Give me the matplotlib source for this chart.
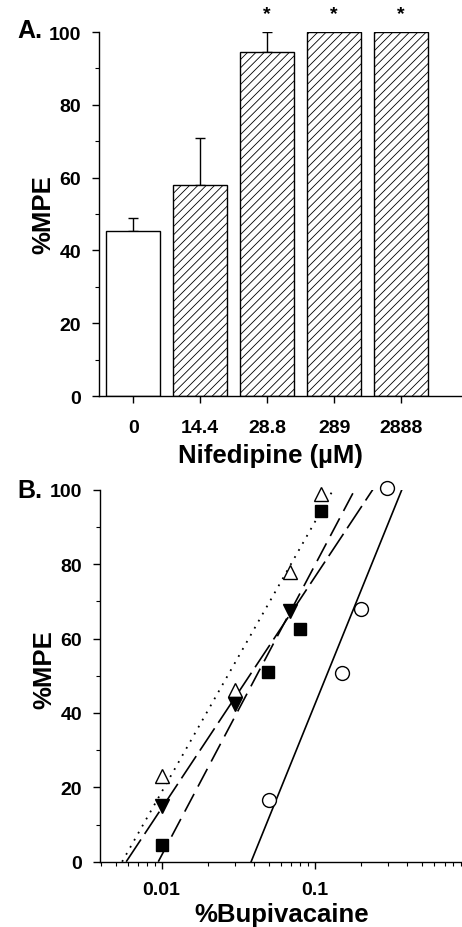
import numpy as np
import matplotlib
matplotlib.use("Agg")
import matplotlib.pyplot as plt
from matplotlib.ticker import MultipleLocator, LogLocator, NullFormatter, FixedLocator

plt.rcParams['font.family'] = ['Liberation Sans', 'DejaVu Sans']
plt.rcParams['font.weight'] = 'bold'
plt.rcParams['hatch.linewidth'] = 0.6

# Panel A: nifedipine dose vs %MPE
nif_labels = ['0', '14.4', '28.8', '289', '2888']
nif_mpe = [45.2, 58.0, 94.6, 100.0, 100.0]
nif_err = [3.8, 12.8, 5.4, 0.0, 0.0]
nif_sig = [False, False, True, True, True]

# Panel B: bupivacaine dose-response, four groups
tri_x = [0.01, 0.03, 0.069, 0.109]
tri_y = [23.0, 46.1, 78.0, 98.8]
inv_x = [0.01, 0.03, 0.069]
inv_y = [15.1, 42.4, 67.5]
sq_x = [0.01, 0.0496, 0.08, 0.109]
sq_y = [4.6, 51.1, 62.5, 94.4]
circ_x = [0.05, 0.151, 0.2, 0.296]
circ_y = [16.6, 50.7, 67.9, 100.4]

W, H = 462, 928
fig = plt.figure(figsize=(W / 100, H / 100), dpi=100)

tick_fs = 14
label_fs = 18.5


def style_axis(ax, xpad):
    for s in ['top', 'right']:
        ax.spines[s].set_visible(False)
    for s in ['left', 'bottom']:
        ax.spines[s].set_linewidth(1.0)
    ax.tick_params(which='major', direction='out', length=5, width=1.0,
                   labelsize=tick_fs)
    ax.tick_params(which='minor', direction='out', length=3, width=0.8)
    ax.tick_params(axis='y', which='major', pad=8)
    ax.tick_params(axis='x', which='major', pad=xpad)
    for lab in ax.get_xticklabels() + ax.get_yticklabels():
        lab.set_fontweight('bold')


# ---- Panel A ----
axA = fig.add_axes([99 / W, 1 - 397 / H, 363 / W, 364 / H])
pos = np.arange(len(nif_labels))
for i in pos:
    axA.bar(i, nif_mpe[i], width=0.8, color='white', edgecolor='black',
            linewidth=1.0, hatch=None if i == 0 else '////', zorder=2)
    if nif_err[i] > 0:
        axA.errorbar(i, nif_mpe[i], yerr=[[0], [nif_err[i]]], fmt='none',
                     ecolor='black', elinewidth=1.0, capsize=3.5,
                     capthick=1.0, zorder=1)
    if nif_sig[i]:
        axA.text(i, 105, '*', ha='center', va='center', fontsize=14,
                 fontweight='bold', clip_on=False)
axA.set_xlim(-0.51, 4.91)
axA.set_ylim(0, 100)
axA.set_xticks(pos)
axA.set_xticklabels(nif_labels)
axA.yaxis.set_major_locator(MultipleLocator(20))
axA.yaxis.set_minor_locator(MultipleLocator(10))
style_axis(axA, 11.5)
axA.set_ylabel('%MPE', fontsize=label_fs, fontweight='bold')
axA.yaxis.set_label_coords(-0.12, 0.5)
axA.set_xlabel('Nifedipine (\u00b5M)', fontsize=label_fs, fontweight='bold')
axA.xaxis.set_label_coords(0.471, -0.13)
fig.text(17 / W, 1 - 38 / H, 'A.', fontsize=18, fontweight='bold',
         ha='left', va='baseline')

# ---- Panel B ----
axB = fig.add_axes([100 / W, 1 - 862.7 / H, 362 / W, 372 / H])
groups = [
    (tri_x, tri_y, '^', 'white', (0, (1, 3.5)), 1.3, 10),
    (inv_x, inv_y, 'v', 'black', (0, (16, 4)), 1.2, 10),
    (sq_x, sq_y, 's', 'black', (0, (12, 5)), 1.2, 9),
    (circ_x, circ_y, 'o', 'white', '-', 1.2, 10),
]
for gx, gy, mk, fc, ls, lw, ms in groups:
    lx = np.log10(gx)
    m, b = np.polyfit(lx, gy, 1)
    xs = 10 ** np.linspace((0 - b) / m, (100 - b) / m, 100)
    axB.plot(xs, m * np.log10(xs) + b, color='black', linestyle=ls,
             linewidth=lw, zorder=2)
    axB.plot(gx, gy, linestyle='none', marker=mk, markersize=ms,
             markerfacecolor=fc, markeredgecolor='black',
             markeredgewidth=1.0, zorder=3, clip_on=False)
axB.set_xscale('log')
axB.set_xlim(0.00396, 0.91)
axB.set_ylim(0, 100)
axB.xaxis.set_major_locator(FixedLocator([0.01, 0.1]))
axB.set_xticklabels(['0.01', '0.1'])
axB.xaxis.set_minor_locator(LogLocator(base=10, subs=np.arange(2, 10)))
axB.xaxis.set_minor_formatter(NullFormatter())
axB.yaxis.set_major_locator(MultipleLocator(20))
axB.yaxis.set_minor_locator(MultipleLocator(10))
style_axis(axB, 9)
axB.set_ylabel('%MPE', fontsize=label_fs, fontweight='bold')
axB.yaxis.set_label_coords(-0.12, 0.518)
axB.set_xlabel('%Bupivacaine', fontsize=label_fs, fontweight='bold')
axB.xaxis.set_label_coords(0.503, -0.108)
fig.text(17 / W, 1 - 498 / H, 'B.', fontsize=18, fontweight='bold',
         ha='left', va='baseline')

fig.savefig('out.png', dpi=100)
